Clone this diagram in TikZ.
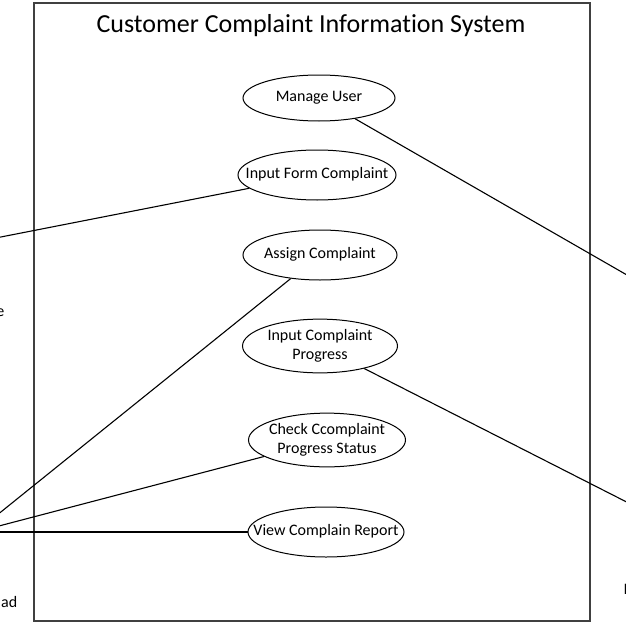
\documentclass[tikz,border=0pt]{standalone}
\usepackage{fontspec}
\setmainfont{Carlito}[Ligatures=NoCommon]
\usetikzlibrary{shapes.geometric}
\tikzset{
  uc/.style={draw, ellipse, inner sep=0pt, minimum width=155pt,
             minimum height=50pt, line width=1pt,
             font=\fontsize{16}{19}\selectfont},
  assoc/.style={line width=1.1pt},
  lbl/.style={font=\fontsize{16}{19}\selectfont, inner sep=0pt},
  sysbox/.style={draw=black!75, line width=1.6pt, inner sep=0pt},
}
\newcommand{\uctext}[1]{\makebox[0pt]{\begin{tabular}{@{}c@{}}#1\end{tabular}}}

\begin{document}
\begin{tikzpicture}[x=1pt, y=-1pt]
  \useasboundingbox (0,0) rectangle (626,626);
  \clip (0,0) rectangle (626,626);
  % system boundary
  \node[sysbox, minimum width=556pt, minimum height=618pt, anchor=north west]
    (sys) at (33,2) {};
  \node[font=\fontsize{26}{30}\selectfont, anchor=base] (title) at (311,33)
    {Customer Complaint Information System};
  % use cases
  \node[uc, minimum width=152pt, minimum height=46pt] (mu) at (319,98)
    {\uctext{Manage User}};
  \node[uc, minimum width=158pt] (ifc) at (317,175) {\uctext{Input Form Complaint}};
  \node[uc, minimum width=154pt] (ac) at (320,255) {\uctext{Assign Complaint}};
  \node[uc, minimum height=52pt] (icp) at (320,346)
    {\uctext{Input Complaint\\Progress}};
  \node[uc, minimum width=157pt, minimum height=52pt] (ccp) at (327,440)
    {\uctext{Check Ccomplaint\\Progress Status}};
  \node[uc, minimum width=156pt] (vcr) at (326,532) {\uctext{View Complain Report}};
  % actors sit outside the frame
  \coordinate (cs) at (-40,245);
  \coordinate (hd) at (-24,532);
  \coordinate (adm) at (660,294);
  \coordinate (tech) at (660,519);
  \node[lbl, anchor=base east] (csl) at (4.5,316) {e};
  \node[lbl, anchor=base east] (hdl) at (17.5,607) {ad};
  \node[lbl, anchor=base west] (techl) at (623.5,594) {I};
  % associations
  \draw[assoc] (ifc) -- (cs);
  \draw[assoc] (ac) -- (hd);
  \draw[assoc] (ccp) -- (hd);
  \draw[assoc] (vcr) -- (hd);
  \draw[assoc] (mu) -- (adm);
  \draw[assoc] (icp) -- (tech);
\end{tikzpicture}
\end{document}
